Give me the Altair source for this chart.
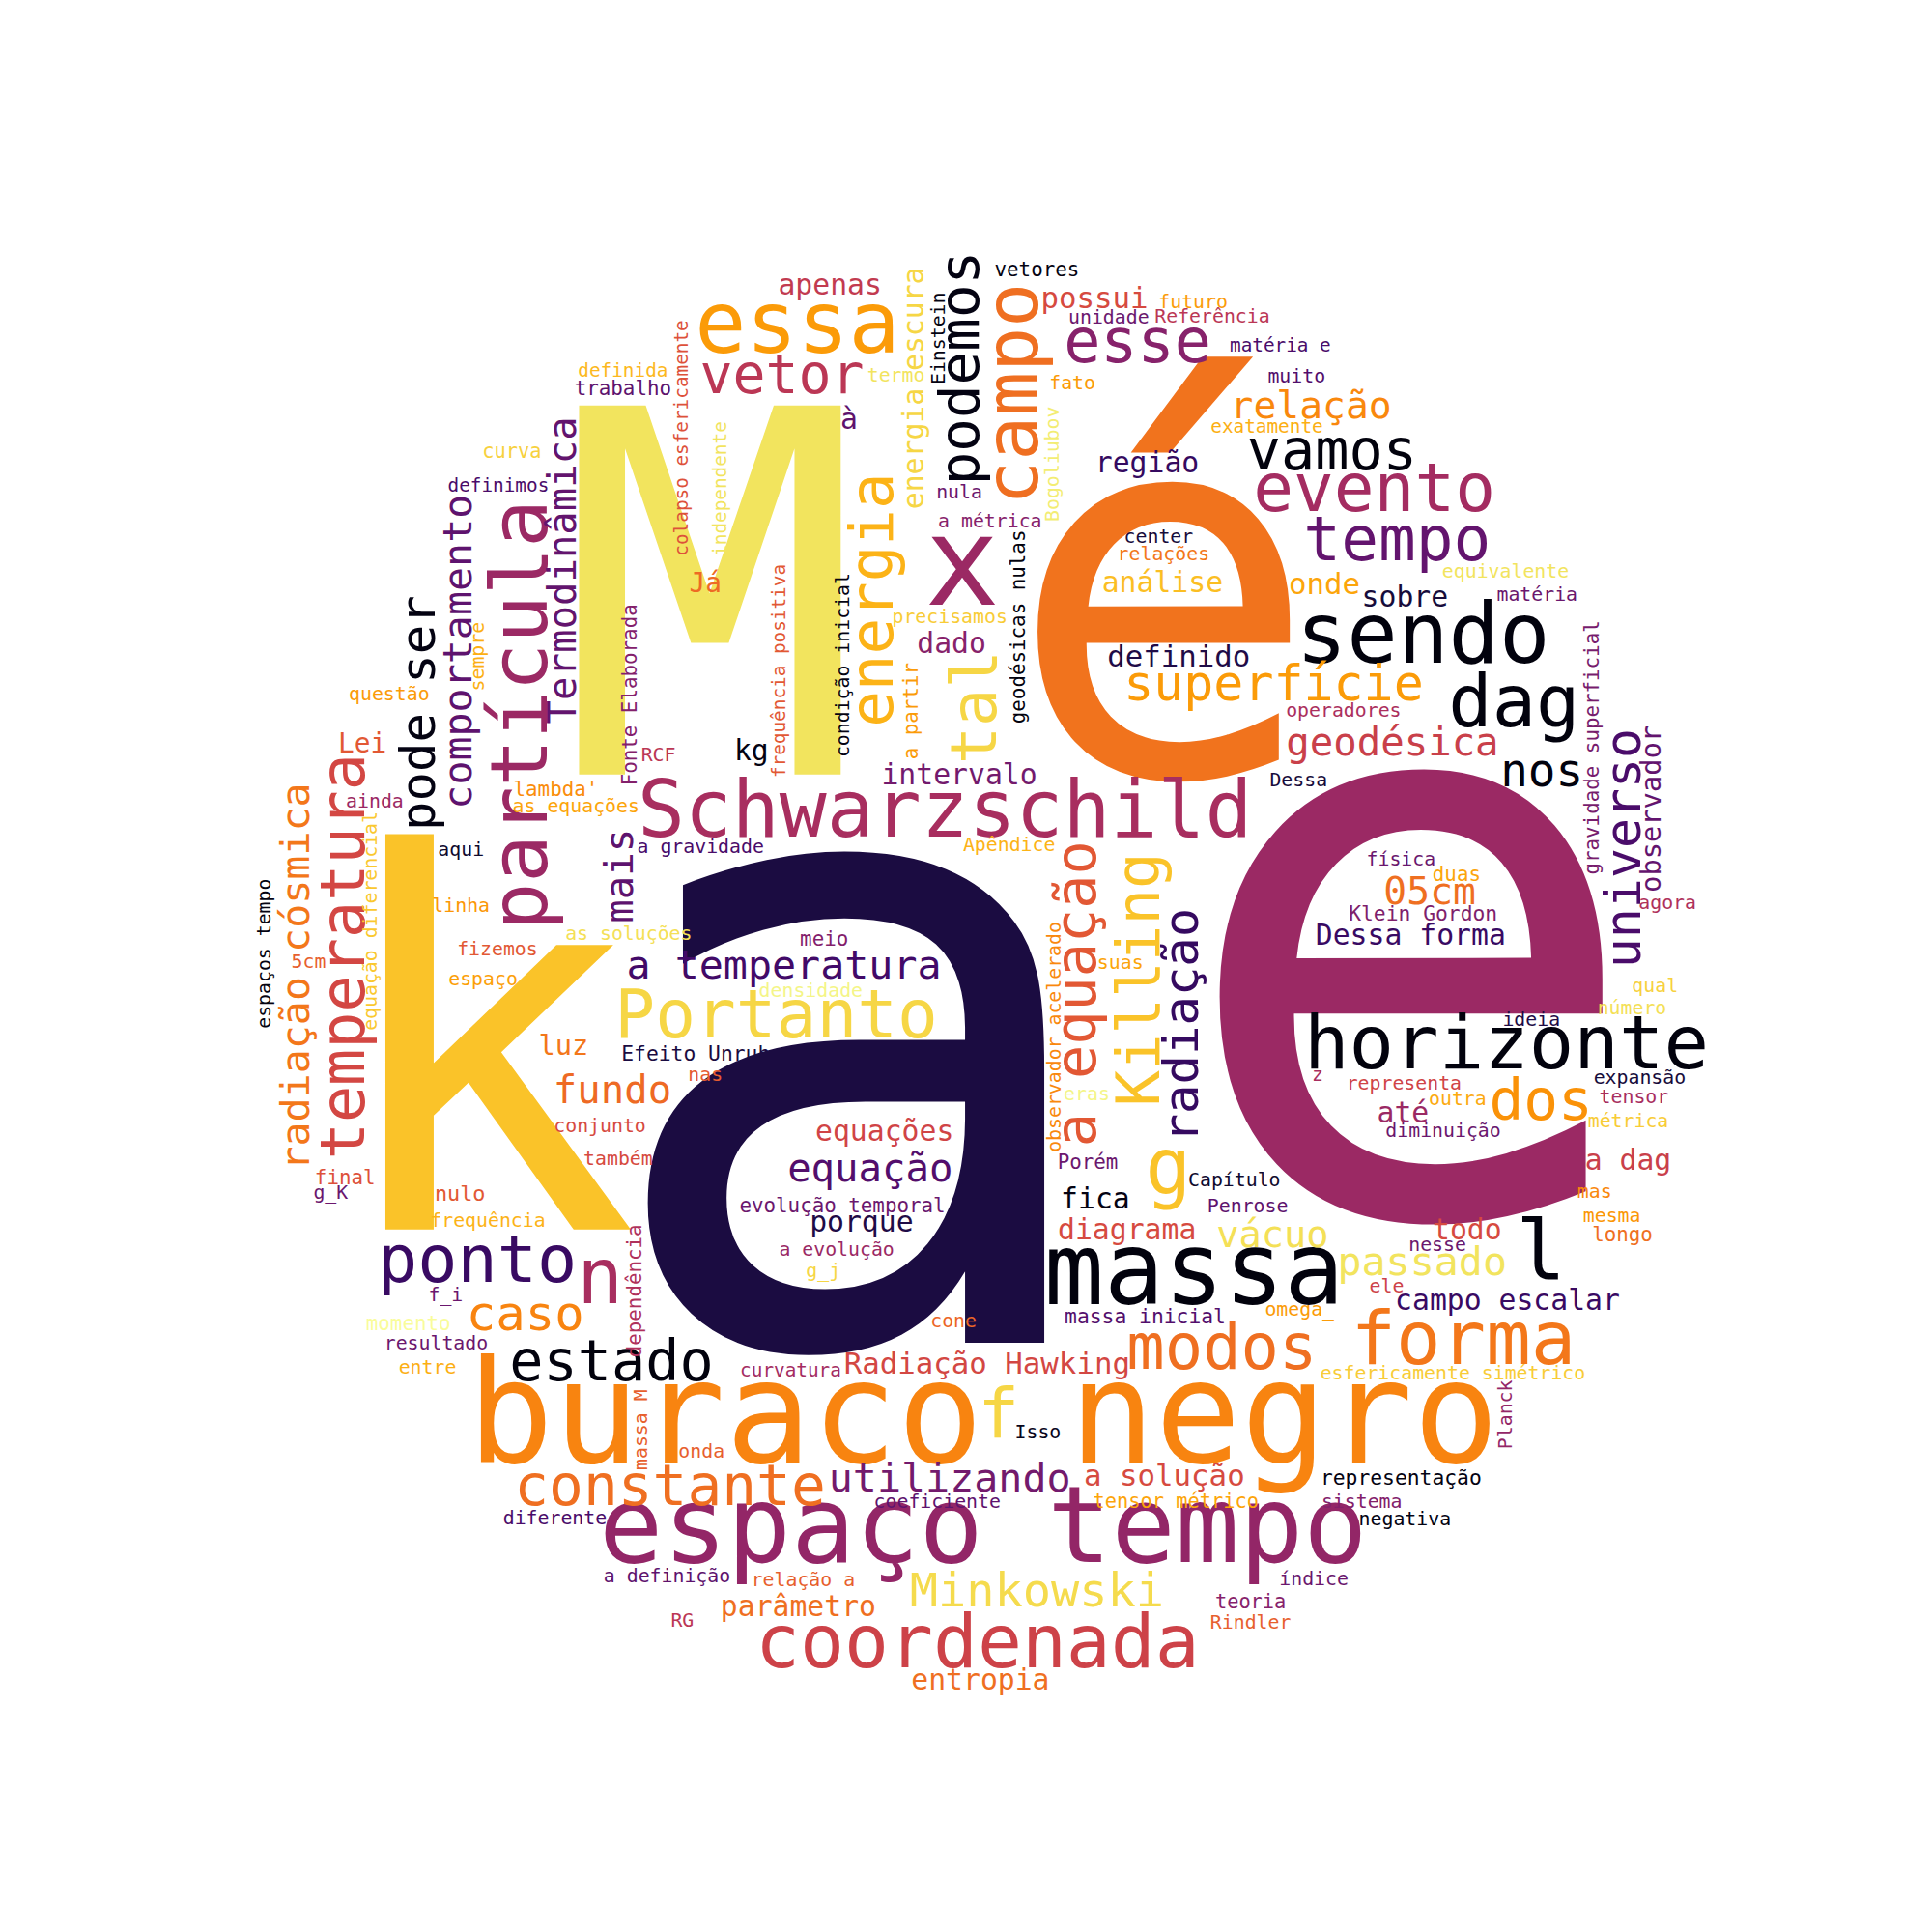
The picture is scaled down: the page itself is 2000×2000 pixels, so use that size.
import altair as alt
import pandas as pd

# word, x, y, font size, angle, shade (0-1 position on the inferno colormap)
GIANT = [
    ("a", 892, 1118, 915, 0, 0.11),
    ("é", 1214, 636, 545, 0, 0.69),
    ("e", 1472, 1010, 827, 0, 0.42),
    ("M", 741, 642, 528, 0, 0.93),
    ("k", 503, 1112, 543, 0, 0.86),
]

LARGE = [
    ("buraco negro", 1026, 1473, 149, 0, 0.73),
    ("espaço tempo", 1026, 1589, 111, 0, 0.40),
    ("Schwarzschild", 986, 840, 82, 0, 0.45),
    ("horizonte", 1572, 1084, 78, 0, 0.02),
    ("massa", 1246, 1322, 104, 0, 0.02),
    ("coordenada", 1020, 1709, 77, 0, 0.55),
    ("forma", 1527, 1392, 78, 0, 0.70),
    ("modos", 1275, 1400, 66, 0, 0.68),
    ("constante", 699, 1544, 60, 0, 0.68),
    ("ponto", 498, 1309, 69, 0, 0.18),
    ("n", 626, 1328, 80, 0, 0.45),
    ("estado", 638, 1414, 59, 0, 0.02),
    ("f", 1042, 1470, 72, 0, 0.90),
    ("Portanto", 810, 1054, 70, 0, 0.90),
    ("essa", 832, 333, 89, 0, 0.78),
    ("vetor", 816, 385, 57, 0, 0.50),
    ("esse", 1187, 351, 64, 0, 0.37),
    ("x", 1004, 584, 130, 0, 0.42),
    ("vamos", 1390, 464, 59, 0, 0.02),
    ("evento", 1434, 504, 70, 0, 0.44),
    ("tempo", 1458, 557, 65, 0, 0.28),
    ("sendo", 1485, 657, 88, 0, 0.02),
    ("dag", 1580, 727, 76, 0, 0.02),
    ("dos", 1608, 1142, 60, 0, 0.76),
    ("l", 1608, 1301, 87, 0, 0.02),
    ("g", 1219, 1213, 80, 0, 0.86),
    ("Minkowski", 1082, 1653, 49, 0, 0.91),
]

LARGE_VERTICAL = [
    ("partícula", 545, 738, 83, 270, 0.42),
    ("temperatura", 361, 990, 64, 270, 0.57),
    ("energia", 912, 618, 63, 270, 0.83),
    ("podemos", 1004, 376, 58, 270, 0.03),
    ("campo", 1060, 403, 77, 270, 0.68),
    ("tal", 1019, 730, 66, 270, 0.90),
    ("a equação", 1125, 1029, 59, 270, 0.62),
    ("Killing", 1191, 1014, 63, 270, 0.86),
]

MEDIUM = [
    ("superfície", 1329, 707, 52, 0, 0.78),
    ("a temperatura", 818, 1000, 42, 0, 0.20),
    ("fundo", 639, 1131, 41, 0, 0.67),
    ("geodésica", 1453, 768, 41, 0, 0.54),
    ("nos", 1609, 798, 48, 0, 0.02),
    ("05cm", 1492, 923, 40, 0, 0.68),
    ("relação", 1368, 416, 40, 0, 0.74),
    ("vácuo", 1328, 1281, 39, 0, 0.92),
    ("passado", 1484, 1310, 42, 0, 0.93),
    ("equação", 908, 1213, 41, 0, 0.24),
    ("utilizando", 991, 1535, 42, 0, 0.32),
    ("caso", 548, 1365, 51, 0, 0.73),
    ("Dessa forma", 1472, 969, 30, 0, 0.18),
    ("definido", 1230, 678, 31, 0, 0.12),
    ("análise", 1213, 601, 30, 0, 0.85),
    ("onde", 1382, 603, 31, 0, 0.80),
    ("sobre", 1466, 616, 30, 0, 0.10),
    ("região", 1197, 476, 30, 0, 0.17),
    ("possui", 1142, 304, 31, 0, 0.58),
    ("apenas", 866, 290, 30, 0, 0.52),
    ("dado", 993, 664, 30, 0, 0.37),
    ("intervalo", 1001, 801, 30, 0, 0.32),
    ("equações", 923, 1173, 30, 0, 0.56),
    ("porque", 899, 1268, 30, 0, 0.12),
    ("fica", 1143, 1244, 30, 0, 0.03),
    ("diagrama", 1176, 1276, 30, 0, 0.58),
    ("todo", 1531, 1276, 30, 0, 0.58),
    ("campo escalar", 1573, 1350, 30, 0, 0.18),
    ("até", 1464, 1154, 30, 0, 0.42),
    ("a dag", 1699, 1204, 30, 0, 0.54),
    ("Radiação Hawking", 1030, 1416, 31, 0, 0.57),
    ("a solução", 1215, 1533, 31, 0, 0.58),
    ("parâmetro", 833, 1669, 30, 0, 0.68),
    ("entropia", 1023, 1746, 30, 0, 0.68),
    ("luz", 588, 1084, 29, 0, 0.70),
    ("kg", 784, 776, 30, 0, 0.03),
    ("Lei", 378, 769, 28, 0, 0.62),
    ("Já", 736, 602, 28, 0, 0.67),
    ("à", 886, 430, 30, 0, 0.27),
]

MEDIUM_VERTICAL = [
    ("radiação cósmica", 310, 1011, 42, 270, 0.70),
    ("pode ser", 439, 736, 51, 270, 0.03),
    ("comportamento", 479, 672, 42, 270, 0.27),
    ("Termodinâmica", 589, 587, 41, 270, 0.28),
    ("mais", 648, 906, 41, 270, 0.27),
    ("energia escura", 955, 397, 30, 270, 0.90),
    ("universo", 1696, 877, 52, 270, 0.22),
    ("observador", 1724, 836, 29, 270, 0.28),
    ("radiação", 1235, 1062, 51, 270, 0.17),
]

SMALL_VERTICAL = [
    ("colapso esfericamente", 712, 449, 19.5, 270, 0.60),
    ("independente", 752, 502, 19.5, 270, 0.93),
    ("Fonte Elaborada", 658, 717, 21, 270, 0.36),
    ("sempre", 499, 677, 20, 270, 0.82),
    ("espaços tempo", 276, 987, 20, 270, 0.03),
    ("equação diferencial", 387, 953, 20, 270, 0.87),
    ("dependência", 663, 1339, 21, 270, 0.47),
    ("massa M", 669, 1484, 20, 270, 0.64),
    ("Einstein", 980, 345, 20, 270, 0.03),
    ("Bogoliubov", 1099, 476, 20, 270, 0.95),
    ("geodésicas nulas", 1063, 646, 21, 270, 0.02),
    ("condição inicial", 880, 686, 20, 270, 0.03),
    ("frequência positiva", 813, 692, 19.5, 270, 0.62),
    ("a partir", 952, 734, 21, 270, 0.78),
    ("gravidade superficial", 1662, 772, 21, 270, 0.33),
    ("observador acelerado", 1101, 1074, 20, 270, 0.74),
    ("Planck", 1572, 1468, 20, 270, 0.40),
]

SMALL = [
    ("definida", 650, 379, 19.5, 0, 0.84),
    ("trabalho", 650, 398, 21, 0, 0.27),
    ("curva", 534, 464, 20.5, 0, 0.89),
    ("definimos", 520, 499, 19.5, 0, 0.22),
    ("questão", 406, 717, 20, 0, 0.78),
    ("termo", 935, 384, 20, 0, 0.93),
    ("vetores", 1082, 274, 21, 0, 0.03),
    ("futuro", 1245, 307, 20, 0, 0.78),
    ("unidade", 1157, 324, 20, 0, 0.30),
    ("Referência", 1265, 323, 20, 0, 0.50),
    ("fato", 1119, 392, 20, 0, 0.78),
    ("nula", 1001, 506, 20, 0, 0.30),
    ("a métrica", 1033, 536, 20, 0, 0.37),
    ("center", 1209, 552, 20, 0, 0.10),
    ("relações", 1214, 571, 20, 0, 0.70),
    ("precisamos", 991, 636, 20, 0, 0.88),
    ("matéria e", 1336, 353, 19.5, 0, 0.22),
    ("muito", 1353, 385, 20, 0, 0.24),
    ("exatamente", 1322, 437, 19.5, 0, 0.82),
    ("equivalente", 1571, 589, 20, 0, 0.93),
    ("matéria", 1604, 613, 20, 0, 0.30),
    ("operadores", 1402, 734, 20, 0, 0.46),
    ("Dessa", 1355, 806, 20, 0, 0.10),
    ("física", 1462, 889, 20, 0, 0.30),
    ("duas", 1520, 905, 21, 0, 0.80),
    ("Klein Gordon", 1485, 947, 21.5, 0, 0.35),
    ("agora", 1740, 934, 20, 0, 0.47),
    ("qual", 1727, 1021, 20, 0, 0.89),
    ("número", 1703, 1044, 20, 0, 0.92),
    ("ideia", 1598, 1056, 20, 0, 0.12),
    ("z", 1375, 1114, 20, 0, 0.45),
    ("representa", 1465, 1123, 20, 0, 0.56),
    ("outra", 1521, 1139, 20, 0, 0.81),
    ("diminuição", 1506, 1172, 20, 0, 0.30),
    ("expansão", 1711, 1117, 20, 0, 0.10),
    ("tensor", 1705, 1137, 20, 0, 0.45),
    ("métrica", 1699, 1162, 20, 0, 0.88),
    ("mas", 1664, 1236, 20, 0, 0.74),
    ("mesma", 1682, 1261, 20, 0, 0.77),
    ("longo", 1693, 1281, 21, 0, 0.68),
    ("nesse", 1500, 1291, 20, 0, 0.30),
    ("ele", 1447, 1335, 20, 0, 0.55),
    ("omega_", 1356, 1359, 20, 0, 0.78),
    ("massa inicial", 1195, 1367, 21.5, 0, 0.24),
    ("cone", 995, 1371, 20, 0, 0.66),
    ("esfericamente simétrico", 1516, 1425, 20, 0, 0.88),
    ("representação", 1462, 1535, 21.5, 0, 0.03),
    ("sistema", 1421, 1559, 20, 0, 0.36),
    ("negativa", 1466, 1578, 20, 0, 0.03),
    ("índice", 1371, 1640, 20, 0, 0.30),
    ("teoria", 1305, 1664, 20.5, 0, 0.37),
    ("Rindler", 1305, 1685, 20, 0, 0.64),
    ("Apêndice", 1053, 874, 20, 0, 0.83),
    ("suas", 1169, 997, 20, 0, 0.80),
    ("eras", 1134, 1134, 20, 0, 0.97),
    ("Porém", 1135, 1206, 21, 0, 0.30),
    ("Capítulo", 1288, 1224, 20, 0, 0.08),
    ("Penrose", 1302, 1251, 20, 0, 0.27),
    ("meio", 860, 973, 21, 0, 0.36),
    ("densidade", 846, 1026, 20, 0, 0.97),
    ("evolução temporal", 879, 1251, 21, 0, 0.30),
    ("a evolução", 873, 1296, 20, 0, 0.42),
    ("g_j", 859, 1319, 20, 0, 0.90),
    ("Isso", 1083, 1487, 20, 0, 0.05),
    ("coeficiente", 978, 1559, 20, 0, 0.27),
    ("tensor métrico", 1227, 1559, 20.5, 0, 0.80),
    ("curvatura", 825, 1422, 19.5, 0, 0.44),
    ("relação a", 838, 1641, 20, 0, 0.64),
    ("RG", 712, 1683, 20, 0, 0.50),
    ("a definição", 696, 1637, 20, 0, 0.27),
    ("diferente", 579, 1577, 20, 0, 0.22),
    ("onda", 732, 1507, 20, 0, 0.64),
    ("momento", 426, 1374, 21, 0, 0.99),
    ("resultado", 455, 1394, 20, 0, 0.30),
    ("entre", 446, 1419, 20, 0, 0.82),
    ("f_i", 465, 1344, 20, 0, 0.30),
    ("frequência", 509, 1266, 20, 0, 0.83),
    ("nulo", 480, 1238, 22, 0, 0.62),
    ("final", 360, 1222, 21, 0, 0.60),
    ("g_K", 345, 1237, 20, 0, 0.30),
    ("5cm", 322, 996, 20, 0, 0.64),
    ("ainda", 391, 829, 20, 0, 0.42),
    ("aqui", 481, 879, 20, 0, 0.08),
    ("linha", 481, 937, 20, 0, 0.77),
    ("fizemos", 519, 983, 20, 0, 0.62),
    ("espaço", 504, 1014, 20, 0, 0.79),
    ("conjunto", 626, 1167, 20, 0, 0.58),
    ("também", 645, 1202, 20, 0, 0.58),
    ("nas", 736, 1114, 20, 0, 0.63),
    ("Efeito Unruh", 726, 1093, 21.5, 0, 0.11),
    ("as soluções", 656, 967, 20, 0, 0.92),
    ("a gravidade", 731, 876, 20, 0, 0.22),
    ("RCF", 687, 780, 20, 0, 0.50),
    ("lambda'", 580, 817, 21, 0, 0.75),
    ("as equações", 601, 834, 20, 0, 0.80),
]

rows = GIANT + LARGE + LARGE_VERTICAL + MEDIUM + MEDIUM_VERTICAL + SMALL_VERTICAL + SMALL
df = pd.DataFrame(rows, columns=["word", "x", "y", "size", "angle", "shade"])

# the page body has an 8px margin, so the domain starts at 8 to line up with the picture
chart = (
    alt.Chart(df)
    .mark_text(font="DejaVu Sans Mono", align="center", baseline="middle")
    .encode(
        x=alt.X("x:Q", axis=None, scale=alt.Scale(domain=[8, 2008], nice=False, zero=False)),
        y=alt.Y("y:Q", axis=None, scale=alt.Scale(domain=[8, 2008], nice=False, zero=False, reverse=True)),
        text="word:N",
        size=alt.Size("size:Q", scale=None, legend=None),
        angle=alt.Angle("angle:Q", scale=None),
        color=alt.Color("shade:Q", scale=alt.Scale(scheme="inferno", domain=[0, 1]), legend=None),
    )
    .properties(width=2000, height=2000, padding=0, autosize=alt.AutoSizeParams(type="none"))
    .configure_view(strokeWidth=0)
)

chart.save("out.html", embed_options={"renderer": "svg", "actions": False})
